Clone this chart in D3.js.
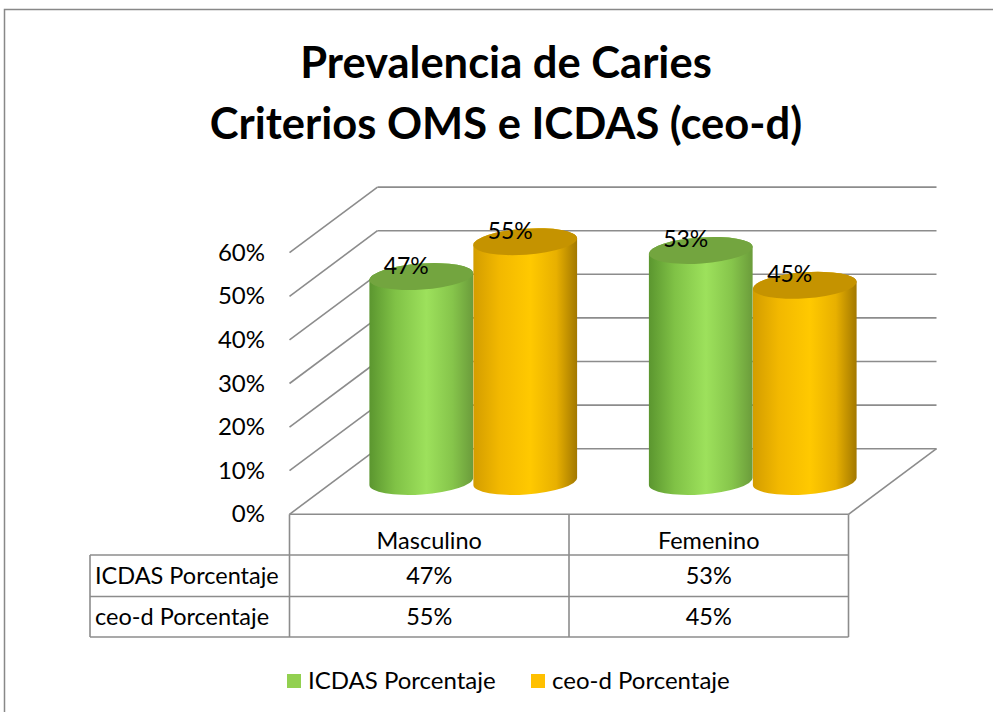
<!DOCTYPE html>
<html>
<head>
<meta charset="utf-8">
<script src="https://cdn.jsdelivr.net/npm/d3@7"></script>
<style>
  body { margin: 0; background: #fff; }
  svg { display: block; font-family: Lato, "Open Sans", sans-serif; }
</style>
</head>
<body>
<script>
// data
var categories = ["Masculino", "Femenino"];
var seriesNames = ["ICDAS Porcentaje", "ceo-d Porcentaje"];
var icdasValues = [0.47, 0.53];
var ceodValues = [0.55, 0.45];
var tickValues = [0, 0.1, 0.2, 0.3, 0.4, 0.5, 0.6];
var seriesValues = [icdasValues, ceodValues];

var W = 993, H = 712;
var svg = d3.select("body").append("svg").attr("width", W).attr("height", H);
var defs = svg.append("defs");
var pct = d3.format(".0%");

// outer frame (runs off the right and bottom edges)
svg.append("rect")
  .attr("x", 4.5).attr("y", 9.5).attr("width", W + 10).attr("height", H + 10)
  .style("fill", "none").style("stroke", "#888").style("stroke-width", 1.5);

// title
var title = svg.append("text").attr("text-anchor", "middle")
  .style("font-weight", "bold").style("font-size", "43.5px").style("fill", "#000");
title.append("tspan").attr("x", 506).attr("y", 78).text("Prevalencia de Caries");
title.append("tspan").attr("x", 506).attr("y", 139).text("Criterios OMS e ICDAS (ceo-d)");

// 3d geometry
var floorLeft = 289.5, floorRight = 848.5;
var depthX = 88, depthY = -65.6;
var x = d3.scaleBand().domain(categories).range([floorLeft, floorRight]);
var xIn = d3.scaleBand().domain(seriesNames).range([0, x.bandwidth()]).paddingInner(0).paddingOuter(0.344);
var y = d3.scaleLinear().domain([0, 0.6]).range([514.3, 252.7]);

var grid = svg.append("g").style("stroke", "#8c8c8c").style("stroke-width", 1.6).style("fill", "none");
tickValues.forEach(function(t){
  var yy = y(t);
  grid.append("line").attr("x1", floorLeft).attr("y1", yy).attr("x2", floorLeft + depthX).attr("y2", yy + depthY);
  grid.append("line").attr("x1", floorLeft + depthX).attr("y1", yy + depthY).attr("x2", floorRight + depthX).attr("y2", yy + depthY);
});
// floor front & right edges
grid.append("line").attr("x1", floorLeft).attr("y1", y(0)).attr("x2", floorRight).attr("y2", y(0));
grid.append("line").attr("x1", floorRight).attr("y1", y(0)).attr("x2", floorRight + depthX).attr("y2", y(0) + depthY);

// y tick labels
svg.append("g").selectAll("text").data(tickValues).enter().append("text")
  .attr("x", 265).attr("y", function(d){ return y(d) + 8; })
  .attr("text-anchor", "end").style("font-size", "24px").style("fill", "#000")
  .text(pct);

// gradients
var bodyStops = [
  [{o: 0, c: "#5b962f"}, {o: 0.25, c: "#80c246"}, {o: 0.55, c: "#9de15c"}, {o: 0.8, c: "#86c54b"}, {o: 1, c: "#6b9c3b"}],
  [{o: 0, c: "#d39d00"}, {o: 0.25, c: "#f2b800"}, {o: 0.55, c: "#ffc900"}, {o: 0.8, c: "#e8b000"}, {o: 1, c: "#a27800"}]
];
var topColors = ["#73a53f", "#c59300"];
var legendColors = ["#92d050", "#ffc000"];
bodyStops.forEach(function(stops, i){
  var g = defs.append("linearGradient").attr("id", "body" + i).attr("x1", 0).attr("x2", 1).attr("y1", 0).attr("y2", 0);
  stops.forEach(function(s){ g.append("stop").attr("offset", s.o).attr("stop-color", s.c); });
});

// cylinders
var rx = xIn.bandwidth() / 2, ry = 13, tilt = -4;
var tr = tilt * Math.PI / 180;
var ex = rx * Math.cos(tr), ey = rx * Math.sin(tr);
var bars = svg.append("g");
categories.forEach(function(cat, ci){
  seriesNames.forEach(function(s, si){
    var v = seriesValues[si][ci];
    var cx = x(cat) + xIn(s) + rx + depthX / 2;
    var yb = y(0) + depthY / 2, yt = y(v) + depthY / 2;
    var d = "M" + (cx - ex) + "," + (yt - ey) +
      " L" + (cx - ex) + "," + (yb - ey) +
      " A" + rx + "," + ry + " " + tilt + " 0 0 " + (cx + ex) + "," + (yb + ey) +
      " L" + (cx + ex) + "," + (yt + ey) +
      " A" + rx + "," + ry + " " + tilt + " 0 0 " + (cx - ex) + "," + (yt - ey) + " Z";
    bars.append("path").attr("d", d).style("fill", "url(#body" + si + ")");
    bars.append("ellipse").attr("cx", 0).attr("cy", 0).attr("rx", rx).attr("ry", ry)
      .attr("transform", "translate(" + cx + "," + yt + ") rotate(" + tilt + ")")
      .style("fill", topColors[si]);
    bars.append("text").attr("x", cx - 15).attr("y", yt - 3).attr("text-anchor", "middle")
      .style("font-size", "23px").style("fill", "#000").text(pct(v));
  });
});

// data table
var tbl = svg.append("g");
var rowY = [514.3, 555, 596.5, 637];
var tline = tbl.append("g").style("stroke", "#8c8c8c").style("stroke-width", 1.6);
[floorLeft, floorRight, x(categories[1])].forEach(function(xx){
  tline.append("line").attr("x1", xx).attr("x2", xx).attr("y1", rowY[0]).attr("y2", rowY[3]);
});
tline.append("line").attr("x1", 90).attr("x2", 90).attr("y1", rowY[1]).attr("y2", rowY[3]);
[1, 2, 3].forEach(function(r){
  tline.append("line").attr("x1", 90).attr("x2", floorRight).attr("y1", rowY[r]).attr("y2", rowY[r]);
});
tbl.selectAll("text.hdr").data(categories).enter().append("text").attr("class", "hdr")
  .attr("x", function(d){ return x(d) + x.bandwidth() / 2; }).attr("y", 549)
  .attr("text-anchor", "middle").style("font-size", "23.5px").text(function(d){ return d; });
seriesNames.forEach(function(s, si){
  var ty = (rowY[si + 1] + rowY[si + 2]) / 2 + 8;
  tbl.append("text").attr("x", 95).attr("y", ty).style("font-size", "23.5px").text(s);
  categories.forEach(function(cat, ci){
    tbl.append("text").attr("x", x(cat) + x.bandwidth() / 2).attr("y", ty).attr("text-anchor", "middle")
      .style("font-size", "23.5px").text(pct(seriesValues[si][ci]));
  });
});

// legend
var legX = [287, 531];
var leg = svg.append("g");
seriesNames.forEach(function(s, si){
  leg.append("rect").attr("x", legX[si]).attr("y", 674).attr("width", 14).attr("height", 14).style("fill", legendColors[si]);
  leg.append("text").attr("x", legX[si] + 21).attr("y", 689).style("font-size", "24px").text(s);
});
</script>
</body>
</html>
